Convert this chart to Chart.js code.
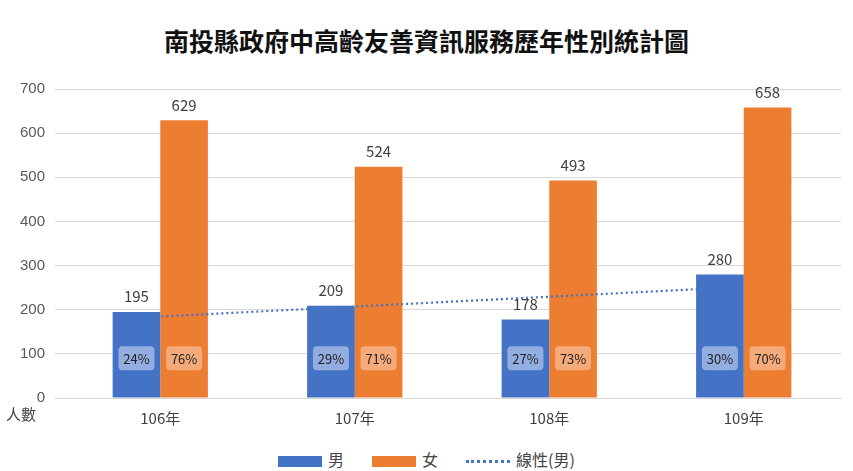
<!DOCTYPE html>
<html><head><meta charset="utf-8">
<script src="https://cdn.jsdelivr.net/npm/chart.js@4"></script>
<style>
body{margin:0;background:#fff;font-family:"Noto Sans CJK TC",sans-serif;}
#wrap{position:relative;width:853px;height:471px;}
#title{position:absolute;top:22px;width:853px;text-align:center;font-size:25px;font-weight:bold;color:#111;}
#cv{position:absolute;left:0;top:70px;}
#unit{position:absolute;left:6px;top:403px;font-size:15px;color:#444;}
#legend{position:absolute;top:444px;left:0;width:853px;text-align:center;font-size:16px;color:#444;}
.li{display:inline-block;margin:0 14px;vertical-align:middle;}
.sw{display:inline-block;width:44px;height:11px;margin-right:6px;vertical-align:middle;}
.dot{display:inline-block;width:44px;border-top:3px dotted #4472C4;margin-right:6px;vertical-align:middle;}
</style></head><body>
<div id="wrap">
<div id="title">南投縣政府中高齡友善資訊服務歷年性別統計圖</div>
<canvas id="cv" width="853" height="360"></canvas>
<div id="unit">人數</div>
<div id="legend"><span class="li"><span class="sw" style="background:#4472C4"></span>男</span><span class="li"><span class="sw" style="background:#ED7D31"></span>女</span><span class="li"><span class="dot"></span>線性(男)</span></div>
</div>
<script>
const categories=["106年","107年","108年","109年"];
const male=[195,209,178,280];
const female=[629,524,493,658];
const malePct=["24%","29%","27%","30%"];
const femalePct=["76%","71%","73%","70%"];
const yTicks=[0,100,200,300,400,500,600,700];

const plug={id:'ann',afterDatasetsDraw(c){
 const ctx=c.ctx,y=c.scales.y;
 // trend line
 const n=male.length,mx=(n+1)/2,my=male.reduce((a,b)=>a+b)/n;
 let sxy=0,sxx=0;male.forEach((v,i)=>{sxy+=(i+1-mx)*(v-my);sxx+=(i+1-mx)**2;});
 const sl=sxy/sxx,ic=my-sl*mx;
 const m0=c.getDatasetMeta(0).data;
 ctx.save();ctx.strokeStyle='#4472C4';ctx.lineWidth=2.2;ctx.setLineDash([2,3]);
 ctx.beginPath();ctx.moveTo(m0[0].x,y.getPixelForValue(ic+sl));ctx.lineTo(m0[n-1].x,y.getPixelForValue(ic+sl*n));ctx.stroke();
 ctx.setLineDash([]);
 [[male,malePct,0,'rgba(160,185,230,0.85)'],[female,femalePct,1,'rgba(245,175,130,0.9)']].forEach(([vals,pct,di,bg])=>{
  c.getDatasetMeta(di).data.forEach((b,i)=>{
   ctx.font='15px "Noto Sans CJK TC",sans-serif';ctx.fillStyle='#404040';ctx.textAlign='center';ctx.textBaseline='bottom';
   ctx.fillText(vals[i],b.x,b.y-8);
   const py=y.getPixelForValue(90);
   ctx.fillStyle=bg;ctx.beginPath();ctx.roundRect(b.x-18,py-12,36,24,4);ctx.fill();
   ctx.fillStyle='#222';ctx.font='13px "Noto Sans CJK TC",sans-serif';ctx.textBaseline='middle';ctx.fillText(pct[i],b.x,py+1);
  });
 });
 ctx.restore();
}};
new Chart(document.getElementById('cv'),{type:'bar',
data:{labels:categories,datasets:[
 {label:'男',data:male,backgroundColor:'#4472C4',categoryPercentage:0.49,barPercentage:1},
 {label:'女',data:female,backgroundColor:'#ED7D31',categoryPercentage:0.49,barPercentage:1}]},
options:{responsive:false,animation:false,layout:{padding:{left:10,right:12,top:8,bottom:0}},
 plugins:{legend:{display:false},tooltip:{enabled:false}},
 scales:{x:{grid:{display:false},border:{color:'#d9d9d9'},ticks:{color:'#404040',font:{size:15,family:'"Noto Sans CJK TC"'}}},
  y:{min:0,max:700,afterBuildTicks:a=>{a.ticks=yTicks.map(v=>({value:v}));},grid:{color:'#d9d9d9'},border:{display:false},
   ticks:{color:'#595959',padding:10,font:{size:15}}}}},
plugins:[plug]});
</script></body></html>
